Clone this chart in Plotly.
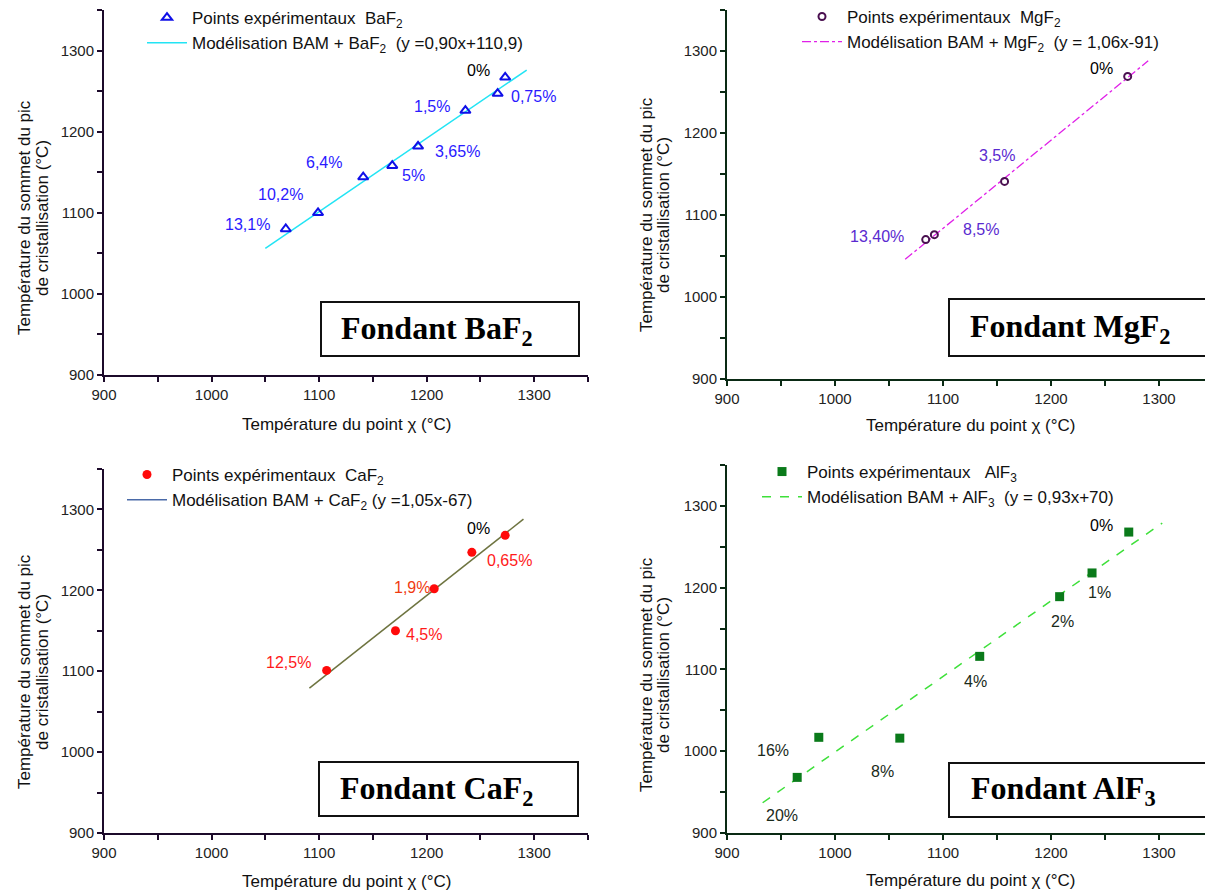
import plotly.graph_objects as go

# ---------------- data ----------------
baf2_x = [1069, 1099, 1141, 1168, 1192, 1236, 1266, 1273]
baf2_y = [1080, 1100, 1144, 1158, 1182, 1226, 1247, 1267]
baf2_lbl = ["13,1%", "10,2%", "6,4%", "5%", "3,65%", "1,5%", "0,75%", "0%"]
baf2_fit_x = [1050, 1293]
baf2_fit_y = [1056, 1276]

mgf2_x = [1084, 1092, 1157, 1271]
mgf2_y = [1070, 1076, 1141, 1269]
mgf2_lbl = ["13,40%", "8,5%", "3,5%", "0%"]
mgf2_fit_x = [1065, 1290]
mgf2_fit_y = [1046, 1288]

caf2_x = [1107, 1171, 1207, 1242, 1273]
caf2_y = [1101, 1150, 1202, 1247, 1268]
caf2_lbl = ["12,5%", "4,5%", "1,9%", "0,65%", "0%"]
caf2_fit_x = [1091, 1290]
caf2_fit_y = [1079, 1288]

alf3_x = [965, 985, 1060, 1134, 1208, 1238, 1272]
alf3_y = [968, 1017, 1016, 1116, 1189, 1218, 1268]
alf3_lbl = ["20%", "16%", "8%", "4%", "2%", "1%", "0%"]
alf3_fit_x = [933, 1303]
alf3_fit_y = [937, 1279]

tick_vals = [900, 1000, 1100, 1200, 1300]
tick_text = ["900", "1000", "1100", "1200", "1300"]

x_title = "Température du point χ (°C)"
y_title_lines = ["Température du sommet du pic", "de cristallisation (°C)"]

# ---------------- styles / placement ----------------
FONT = "Arial, Liberation Sans, sans-serif"
OFF = 8                      # default page body margin
W, H = 1213 - OFF, 892 - OFF


def px(x):
    return (x - OFF) / W


def py(y):
    return 1 - (y - OFF) / H


# label pixel offsets (xshift, yshift) and colours
baf2_off = [(-38, 5), (-38, 18), (-39, 15), (21, -10), (39, -5), (-33, 4), (36, -3), (-27, 7)]
baf2_col = ["#2a1aff"] * 7 + ["#000000"]
mgf2_off = [(-49, 3), (47, 5), (-8, 26), (-26, 8)]
mgf2_col = ["#5a2ad0"] * 3 + ["#000000"]
caf2_off = [(-38, 8), (29, -4), (-22, 1), (38, -8), (-27, 7)]
caf2_col = ["#ff1a1a", "#ff1a1a", "#f03a10", "#ff1a1a", "#000000"]
alf3_off = [(-15, -38), (-46, -13), (-17, -33), (-4, -25), (3, -25), (7, -20), (-27, 7)]
alf3_col = ["#1a2a1a"] * 6 + ["#000000"]

# panel rectangles in reference pixels: (left, right, top, bottom)
panels = [
    (104, 588, 10, 375),
    (727, 1213, 10, 379),
    (104, 588, 469, 833),
    (727, 1213, 465, 833),
]
# axis titles: y-title line centres (x1, x2, yc), x-title centre (xc, yc)
ytitle_pos = [(24, 42, 218), (646, 663, 215), (24, 42, 672), (646, 663, 675)]
xtitle_pos = [(346, 424), (970, 425), (346, 881), (970, 880)]
# legends: (text start x, first item centre y)
legend_pos = [(192, 18), (847, 17), (172, 475), (807, 472)]

fig = go.Figure()

axis_line_colors = ["#1c0a2a", "#0a2a14", "#1c0a2a", "#0a2a14"]

for i, p in enumerate(panels):
    l, r, t, b = p
    n = "" if i == 0 else str(i + 1)
    common = dict(
        range=[900, 1350], showline=True, linecolor=axis_line_colors[i], linewidth=2,
        ticks="outside", ticklen=5, tickwidth=1.5, tickcolor=axis_line_colors[i],
        tickvals=tick_vals, ticktext=tick_text,
        minor=dict(dtick=50, tick0=900, ticks="outside", ticklen=5, tickwidth=1.5,
                   tickcolor=axis_line_colors[i]),
        showgrid=False, zeroline=False, automargin=False,
        tickfont=dict(family=FONT, size=15, color="#222222"),
    )
    fig.layout["xaxis" + n] = dict(common, domain=[px(l), min(px(r), 1)], anchor="y" + n)
    fig.layout["yaxis" + n] = dict(common, domain=[py(b), py(t)], anchor="x" + n)

    x1, x2, yc = ytitle_pos[i]
    for xx, txt in zip((x1, x2), y_title_lines):
        fig.add_annotation(x=px(xx), y=py(yc), xref="paper", yref="paper", text=txt,
                           textangle=-90, showarrow=False, xanchor="center", yanchor="middle",
                           font=dict(family=FONT, size=17, color="#111111"))
    xc, yc2 = xtitle_pos[i]
    fig.add_annotation(x=px(xc), y=py(yc2), xref="paper", yref="paper", text=x_title,
                       showarrow=False, xanchor="center", yanchor="middle",
                       font=dict(family=FONT, size=17, color="#111111"))

NB = "\u00a0"
series = [
    dict(x=baf2_x, y=baf2_y, lbl=baf2_lbl, off=baf2_off, col=baf2_col, fx=baf2_fit_x, fy=baf2_fit_y,
         name_pts="Points expérimentaux" + NB + NB + "BaF<sub>2</sub>",
         name_fit="Modélisation BAM + BaF<sub>2</sub>" + NB + NB + "(y =0,90x+110,9)",
         marker=dict(symbol="triangle-up-open", size=9, color="#1010e8", line=dict(width=2, color="#1010e8")),
         line=dict(color="#22e4f4", width=1.5), leg_line=None),
    dict(x=mgf2_x, y=mgf2_y, lbl=mgf2_lbl, off=mgf2_off, col=mgf2_col, fx=mgf2_fit_x, fy=mgf2_fit_y,
         name_pts="Points expérimentaux" + NB + NB + "MgF<sub>2</sub>",
         name_fit="Modélisation BAM + MgF<sub>2</sub>" + NB + NB + "(y = 1,06x-91)",
         marker=dict(symbol="circle-open", size=7, color="#4a1050", line=dict(width=2, color="#4a1050")),
         line=dict(color="#e020e8", width=1.3, dash="dashdot"), leg_line=None),
    dict(x=caf2_x, y=caf2_y, lbl=caf2_lbl, off=caf2_off, col=caf2_col, fx=caf2_fit_x, fy=caf2_fit_y,
         name_pts="Points expérimentaux" + NB + NB + "CaF<sub>2</sub>",
         name_fit="Modélisation BAM + CaF<sub>2</sub> (y =1,05x-67)",
         marker=dict(symbol="circle", size=9, color="#ff0a0a"),
         line=dict(color="#6e7440", width=1.5), leg_line=dict(color="#4a6aa8", width=1.5)),
    dict(x=alf3_x, y=alf3_y, lbl=alf3_lbl, off=alf3_off, col=alf3_col, fx=alf3_fit_x, fy=alf3_fit_y,
         name_pts="Points expérimentaux" + NB + NB + NB + "AlF<sub>3</sub>",
         name_fit="Modélisation BAM + AlF<sub>3</sub>" + NB + NB + "(y = 0,93x+70)",
         marker=dict(symbol="square", size=9, color="#0a7a1a"),
         line=dict(color="#3ee03a", width=1.5, dash="dash"), leg_line=None),
]

for i, s in enumerate(series):
    n = "" if i == 0 else str(i + 1)
    lg = "legend" if i == 0 else "legend" + str(i + 1)
    xa, ya = "x" + n, "y" + n
    fig.add_trace(go.Scatter(
        x=s["fx"], y=s["fy"], mode="lines", line=s["line"], xaxis=xa, yaxis=ya,
        name=s["name_fit"], legend=lg, legendrank=2, legendgroup=f"f{i}",
        showlegend=s["leg_line"] is None,
    ))
    if s["leg_line"] is not None:
        fig.add_trace(go.Scatter(
            x=[None], y=[None], mode="lines", line=s["leg_line"], xaxis=xa, yaxis=ya,
            name=s["name_fit"], legend=lg, legendrank=2, legendgroup=f"f{i}",
        ))
    fig.add_trace(go.Scatter(
        x=s["x"], y=s["y"], mode="markers", marker=s["marker"], xaxis=xa, yaxis=ya,
        name=s["name_pts"], legend=lg, legendrank=1, legendgroup=f"p{i}",
    ))
    for xv, yv, t, (dx, dy), c in zip(s["x"], s["y"], s["lbl"], s["off"], s["col"]):
        fig.add_annotation(
            x=xv, y=yv, xref=xa, yref=ya, text=t, showarrow=False,
            xanchor="center", yanchor="middle",
            xshift=dx, yshift=dy, font=dict(family=FONT, size=16, color=c),
        )
    tx, iy = legend_pos[i]
    fig.layout[lg] = dict(
        x=px(tx - 50), y=py(iy - 18), xanchor="left", yanchor="top", bgcolor="rgba(0,0,0,0)",
        font=dict(family=FONT, size=17, color="#111111"), tracegroupgap=0,
        traceorder="grouped", itemwidth=40,
    )

# "Fondant" boxes
boxes = [
    (321, 579, 302, 356, "Fondant BaF<sub>2</sub>", 437, 330),
    (949, 1208, 299, 356, "Fondant MgF<sub>2</sub>", 1070, 328),
    (319, 578, 762, 816, "Fondant CaF<sub>2</sub>", 436, 790),
    (949, 1208, 763, 817, "Fondant AlF<sub>3</sub>", 1063, 790),
]
for (l, r, t, b, txt, cx, cy) in boxes:
    fig.add_shape(type="rect", xref="paper", yref="paper",
                  x0=px(l), x1=px(r), y0=py(b), y1=py(t),
                  line=dict(color="#111111", width=2), fillcolor="white", layer="above")
    fig.add_annotation(x=px(cx), y=py(cy), xref="paper", yref="paper", showarrow=False,
                       xanchor="center", yanchor="middle",
                       text="<b>" + txt + "</b>",
                       font=dict(family="Liberation Serif, Times New Roman, serif", size=32, color="#000000"))

fig.update_layout(
    width=W, height=H, margin=dict(l=0, r=0, t=0, b=0, autoexpand=False),
    paper_bgcolor="white", plot_bgcolor="white",
)

fig.write_html("out.html")
